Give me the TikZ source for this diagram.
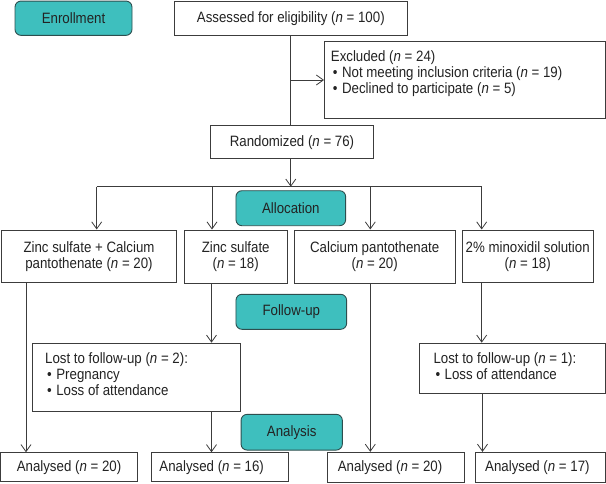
\documentclass[tikz,border=0pt]{standalone}
\usepackage{fontspec}
\setmainfont{Liberation Sans}[FakeStretch=0.885]
\usetikzlibrary{arrows.meta}
\definecolor{teal1}{RGB}{62,191,190}
\definecolor{tealedge}{RGB}{45,78,78}
\definecolor{ln}{RGB}{60,60,60}
\definecolor{txt}{RGB}{35,35,35}
\begin{document}
\begin{tikzpicture}[x=1pt,y=-1pt,
  every node/.style={font=\fontsize{15}{16}\selectfont, text=txt},
  box/.style={draw=ln, line width=0.9pt, fill=white, inner sep=0pt, align=center},
  stage/.style={draw=tealedge, line width=0.9pt, fill=teal1, rounded corners=6pt, inner sep=0pt},
  txtblock/.style={anchor=north west, inner sep=0pt, align=left},
  conn/.style={draw=ln, line width=0.8pt},
  arr/.style={conn, -{Straight Barb[length=7pt,width=10pt,line width=0.8pt]}}]
\useasboundingbox (0,0) rectangle (606,483);

% stage labels
\node[stage, minimum width=117pt, minimum height=34.3pt] (enroll) at (73.5,18.2) {Enrollment};
\node[stage, minimum width=109.7pt, minimum height=35pt] (alloc) at (290.8,208.2) {Allocation};
\node[stage, minimum width=110.7pt, minimum height=35pt] (fup) at (291.3,311.8) {Follow-up};
\node[stage, minimum width=101.3pt, minimum height=35.7pt] (anal) at (291.7,432.2) {Analysis};

% enrollment
\node[box, minimum width=233pt, minimum height=34.3pt] (assess) at (290.8,18.2) {Assessed for eligibility (\textit{n} = 100)};
\node[box, minimum width=281pt, minimum height=77pt, anchor=north west] (excl) at (324,40.7) {};
\node[txtblock] (excltxt) at (330.7,50.5) {Excluded (\textit{n} = 24)\\
\hspace*{2pt}•\hspace{4.5pt}Not meeting inclusion criteria (\textit{n} = 19)\\
\hspace*{2pt}•\hspace{4.5pt}Declined to participate (\textit{n} = 5)};
\node[box, minimum width=162.6pt, minimum height=33pt] (rand) at (292,142.2) {Randomized (\textit{n} = 76)};

% groups
\node[box, minimum width=175.4pt, minimum height=52.7pt] (g1) at (89,256.3) {Zinc sulfate + Calcium\\pantothenate (\textit{n} = 20)};
\node[box, minimum width=102.7pt, minimum height=53.7pt] (g2) at (235.7,256.8) {Zinc sulfate\\(\textit{n} = 18)};
\node[box, minimum width=161.3pt, minimum height=53.7pt] (g3) at (374.7,256.8) {Calcium pantothenate\\(\textit{n} = 20)};
\node[box, minimum width=131.3pt, minimum height=52.7pt] (g4) at (527.7,256.3) {2\% minoxidil solution\\(\textit{n} = 18)};

% follow-up
\node[box, minimum width=208pt, minimum height=68.3pt, anchor=north west] (lost1) at (32.3,342.7) {};
\node[txtblock] (lost1txt) at (45,352) {Lost to follow-up (\textit{n} = 2):\\
\hspace*{2pt}•\hspace{4.5pt}Pregnancy\\
\hspace*{2pt}•\hspace{4.5pt}Loss of attendance};
\node[box, minimum width=185.7pt, minimum height=50.6pt, anchor=north west] (lost2) at (419.3,342.7) {};
\node[txtblock] (lost2txt) at (433.3,352) {Lost to follow-up (\textit{n} = 1):\\
\hspace*{2pt}•\hspace{4.5pt}Loss of attendance};

% analysis
\node[box, minimum width=137.4pt, minimum height=29pt] (a1) at (69,467.2) {Analysed (\textit{n} = 20)};
\node[box, minimum width=137pt, minimum height=29pt] (a2) at (220.2,467.2) {\hspace*{-17pt}Analysed (\textit{n} = 16)};
\node[box, minimum width=137pt, minimum height=30.4pt] (a3) at (395.8,467.5) {\hspace*{-11.6pt}Analysed (\textit{n} = 20)};
\node[box, minimum width=129.3pt, minimum height=30.6pt] (a4) at (540.4,467.6) {\hspace*{-6pt}Analysed (\textit{n} = 17)};

% connectors
\coordinate (j1) at (290.8,80);
\coordinate (bus) at (290.8,186.7);
\coordinate (b1) at (96.7,186.7);
\coordinate (b2) at (212,186.7);
\coordinate (b3) at (370.3,186.7);
\coordinate (b4) at (481.7,186.7);
\coordinate (c1) at (26,0);
\coordinate (c2) at (211.5,0);
\coordinate (c3) at (370.3,0);
\coordinate (c4) at (481.7,0);
\coordinate (c5) at (482.5,0);

\draw[conn] (assess.south) -- (assess.south |- rand.north);
\draw[arr] (j1) -- (j1 -| excl.west);
\draw[arr] (assess.south |- rand.south) -- (bus);
\draw[conn] (b1) -- (b4);
\draw[arr] (b1) -- (b1 |- g1.north);
\draw[arr] (b2) -- (b2 |- g2.north);
\draw[arr] (b3) -- (b3 |- g3.north);
\draw[arr] (b4) -- (b4 |- g4.north);

\draw[arr] (g1.south -| c1) -- (a1.north -| c1);
\draw[arr] (g2.south -| c2) -- (lost1.north -| c2);
\draw[arr] (lost1.south -| c2) -- (a2.north -| c2);
\draw[arr] (g3.south -| c3) -- (a3.north -| c3);
\draw[arr] (g4.south -| c4) -- (lost2.north -| c4);
\draw[arr] (lost2.south -| c5) -- (a4.north -| c5);
\end{tikzpicture}
\end{document}
